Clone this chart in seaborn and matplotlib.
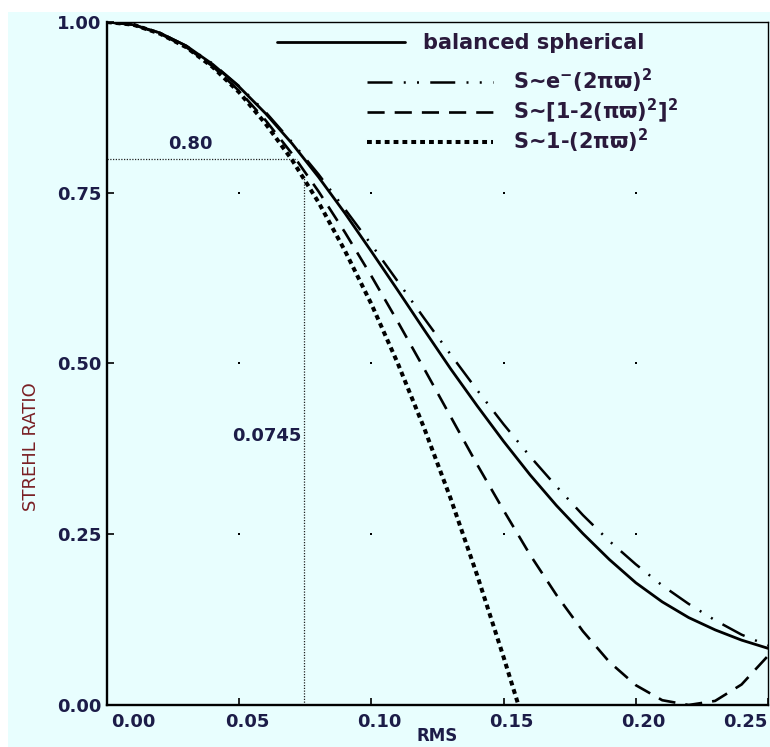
import numpy as np
import pandas as pd
import seaborn as sns
import matplotlib
matplotlib.use("Agg")
import matplotlib.pyplot as plt
from matplotlib.transforms import ScaledTranslation
from matplotlib.patches import Rectangle

# ---------------- data ----------------
rms = [0.00, 0.01, 0.02, 0.03, 0.04, 0.05, 0.06, 0.07, 0.08, 0.09, 0.10, 0.11, 0.12,
       0.13, 0.14, 0.15, 0.16, 0.17, 0.18, 0.19, 0.20, 0.21, 0.22, 0.23, 0.24, 0.25]
balanced_spherical = [1.000, 0.996, 0.984, 0.965, 0.938, 0.905, 0.866, 0.822, 0.773,
                      0.720, 0.664, 0.607, 0.549, 0.492, 0.438, 0.386, 0.337, 0.292,
                      0.251, 0.213, 0.179, 0.151, 0.128, 0.110, 0.095, 0.083]
exp_approx = [1.000, 0.996, 0.984, 0.965, 0.939, 0.906, 0.868, 0.824, 0.777, 0.726,
              0.674, 0.620, 0.566, 0.513, 0.461, 0.411, 0.364, 0.320, 0.278, 0.240,
              0.206, 0.175, 0.148, 0.124, 0.103, 0.087]
square_approx = [1.000, 0.996, 0.983, 0.963, 0.935, 0.899, 0.856, 0.807, 0.752, 0.692,
                 0.628, 0.561, 0.492, 0.422, 0.352, 0.285, 0.220, 0.161, 0.108, 0.063,
                 0.029, 0.007, 0.000, 0.006, 0.030, 0.072]
rms_linear = [0.00, 0.01, 0.02, 0.03, 0.04, 0.05, 0.06, 0.07, 0.08, 0.09, 0.10, 0.11,
              0.12, 0.13, 0.14, 0.15, 0.1556]
linear_approx = [1.000, 0.996, 0.983, 0.963, 0.934, 0.897, 0.851, 0.798, 0.736, 0.665,
                 0.587, 0.500, 0.405, 0.302, 0.190, 0.070, 0.000]

labels = ["balanced spherical",
          "S~e$^{-}$(2πϖ)$^{2}$",
          "S~[1-2(πϖ)$^{2}$]$^{2}$",
          "S~1-(2πϖ)$^{2}$"]

x_ticks = [0.00, 0.05, 0.10, 0.15, 0.20, 0.25]
y_ticks = [0.00, 0.25, 0.50, 0.75, 1.00]
ref_strehl = 0.80
ref_rms = 0.0745

# ---------------- style ----------------
sns.set_style("ticks")
plt.rcParams["font.family"] = ["DejaVu Sans"]
plt.rcParams["font.weight"] = "bold"
plt.rcParams["mathtext.fontset"] = "custom"
plt.rcParams["mathtext.rm"] = "DejaVu Sans:bold"
plt.rcParams["mathtext.it"] = "DejaVu Sans:bold"
plt.rcParams["mathtext.bf"] = "DejaVu Sans:bold"
plt.rcParams["mathtext.default"] = "rm"

BG = "#e8fefe"
NAVY = "#1c1c48"
TEXTC = "#2a1a3c"

W, H = 770, 747
fig = plt.figure(figsize=(W / 100, H / 100), dpi=100)
fig.patch.set_facecolor("white")
fig.patches.append(Rectangle((8 / W, 0), 1 - 8 / W, 1 - 12 / H, transform=fig.transFigure,
                             facecolor=BG, edgecolor="none", zorder=-10))

L, R, T, B = 107, 768, 22, 705
ax = fig.add_axes([L / W, 1 - B / H, (R - L) / W, (B - T) / H])
ax.set_facecolor(BG)

# grid dots at tick intersections
gx = [x for x in x_ticks[1:-1] for y in y_ticks[1:-1]]
gy = [y for x in x_ticks[1:-1] for y in y_ticks[1:-1]]
ax.scatter(gx, gy, s=2.5, marker="s", color="black", linewidths=0, zorder=1)

# reference lines
ax.hlines(ref_strehl, 0, ref_rms - 0.0025, colors="#222222", linewidth=0.9,
          linestyles=(0, (1, 1.2)), zorder=2)
ax.vlines(ref_rms, 0, ref_strehl - 0.025, colors="#222222", linewidth=0.9,
          linestyles=(0, (1, 1.2)), zorder=2)

# curves
df_bal = pd.DataFrame({"RMS": rms, "Strehl": balanced_spherical})
df_exp = pd.DataFrame({"RMS": rms, "Strehl": exp_approx})
df_sq = pd.DataFrame({"RMS": rms, "Strehl": square_approx})
df_lin = pd.DataFrame({"RMS": rms_linear, "Strehl": linear_approx})

sns.lineplot(data=df_bal, x="RMS", y="Strehl", ax=ax, color="black", linewidth=2.0,
             errorbar=None, label=labels[0], zorder=5)
h_bal = ax.lines[-1]
sns.lineplot(data=df_exp, x="RMS", y="Strehl", ax=ax, color="black", linewidth=1.8,
             linestyle=(0, (10, 4.5, 0.8, 4.5, 0.8, 4.5)), errorbar=None,
             label=labels[1], zorder=4)
h_exp = ax.lines[-1]
sns.lineplot(data=df_sq, x="RMS", y="Strehl", ax=ax, color="black", linewidth=1.9,
             linestyle=(0, (6.5, 3.8)), errorbar=None, label=labels[2], zorder=4)
h_sq = ax.lines[-1]
sns.lineplot(data=df_lin, x="RMS", y="Strehl", ax=ax, color="black", linewidth=2.9,
             linestyle=(0, (1.2, 1.0)), errorbar=None, label=labels[3], zorder=4)
h_lin = ax.lines[-1]

old = ax.get_legend()
if old is not None:
    old.remove()

leg_fs = 15
fs_px = leg_fs * 100 / 72
leg1 = ax.legend([h_bal], [labels[0]], loc="upper left",
                 bbox_to_anchor=(277 / W, 1 - 33 / H), bbox_transform=fig.transFigure,
                 frameon=False, handlelength=128 / fs_px, handletextpad=18 / fs_px,
                 borderpad=0, borderaxespad=0, fontsize=leg_fs, labelcolor=TEXTC)
ax.add_artist(leg1)
leg2 = ax.legend([h_exp, h_sq, h_lin], labels[1:], loc="upper left",
                 bbox_to_anchor=(367 / W, 1 - 67 / H), bbox_transform=fig.transFigure,
                 frameon=False, handlelength=126 / fs_px, handletextpad=20 / fs_px,
                 borderpad=0, borderaxespad=0, labelspacing=0.08, fontsize=leg_fs,
                 labelcolor=TEXTC)

# annotations
ax.text(0.0314, ref_strehl + 0.008, "0.80", ha="center", va="bottom",
        fontsize=13, color=NAVY, fontweight="bold")
ax.text(ref_rms - 0.001, 0.394, "0.0745", ha="right", va="center",
        fontsize=13, color=NAVY, fontweight="bold")

# axes
ax.set_xlim(0, 0.25)
ax.set_ylim(0, 1.0)
ax.set_xticks(x_ticks)
ax.set_xticklabels([f"{v:.2f}" for v in x_ticks])
ax.set_yticks(y_ticks)
ax.set_yticklabels([f"{v:.2f}" for v in y_ticks])
ax.set_yticks([0.50], minor=True)
ax.tick_params(axis="both", which="major", direction="in", length=5, width=1.2,
               colors="black", labelcolor=NAVY, labelsize=13)
ax.tick_params(axis="x", which="major", pad=6)
ax.tick_params(axis="y", which="major", pad=4)
ax.tick_params(axis="y", which="minor", direction="in", length=12, width=1.2,
               labelleft=False)
ax.tick_params(axis="x", which="minor", bottom=False)

n_xt = len(x_ticks)
for i, tick in enumerate(ax.xaxis.get_major_ticks()):
    if i == 0:
        dx = 26
    elif i == n_xt - 1:
        dx = -23
    else:
        dx = 8
    off = ScaledTranslation(dx / 100, 0, fig.dpi_scale_trans)
    tick.label1.set_transform(tick.label1.get_transform() + off)

for name in ["left", "bottom"]:
    ax.spines[name].set_linewidth(1.7)
    ax.spines[name].set_color("black")
for name in ["top", "right"]:
    ax.spines[name].set_visible(True)
    ax.spines[name].set_linewidth(1.0)
    ax.spines[name].set_color("black")

ax.set_xlabel("RMS", fontsize=12, color=NAVY, fontweight="bold")
ax.xaxis.set_label_coords(0.5, (B - 736) / (B - T))
ax.xaxis.label.set_va("center")
ax.set_ylabel("STREHL RATIO", fontsize=13, color="#7a1f24", fontweight="normal",
              family=["Liberation Sans Narrow", "DejaVu Sans"])
ax.yaxis.set_label_coords((31 - L) / (R - L), (B - 447) / (B - T))
ax.yaxis.label.set_va("center")

fig.savefig("out.png", dpi=100, facecolor=fig.get_facecolor())
